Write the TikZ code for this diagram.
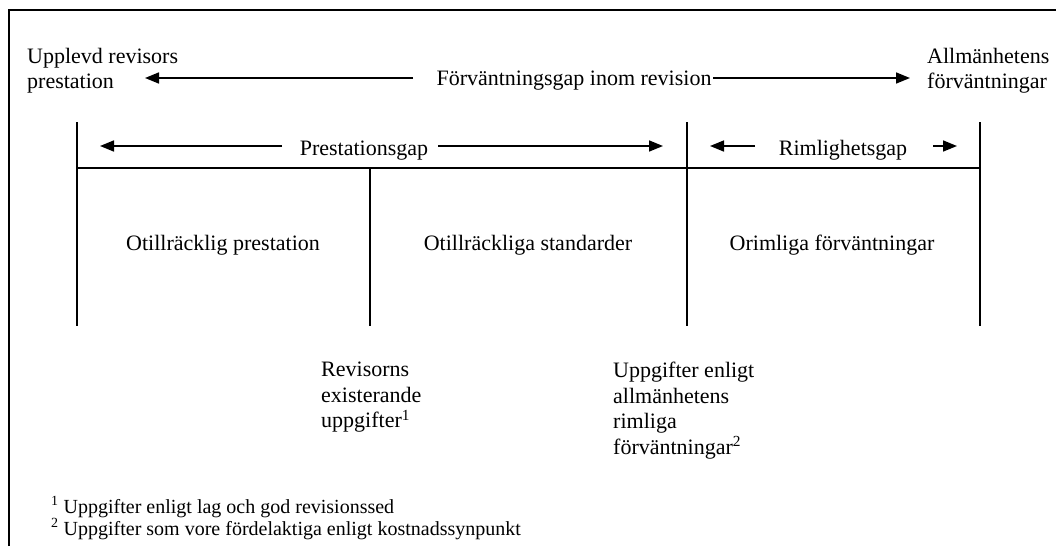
\documentclass[tikz,border=0pt]{standalone}
\usepackage{fontspec}
\setmainfont{Liberation Serif}
\usetikzlibrary{arrows.meta}
\begin{document}
\begin{tikzpicture}[x=1pt,y=-1pt,
  txt/.style={inner sep=0pt, font=\fontsize{22}{25.5}\selectfont},
  fn/.style={inner sep=0pt, font=\fontsize{20}{22}\selectfont, anchor=base west},
  ln/.style={line width=1.6pt},
  arr/.style={line width=1.6pt, -{Triangle[length=14pt,width=11pt]}}]
\useasboundingbox (0,0) rectangle (1056,546);
% frame
\draw[ln] (9,546) -- (9,10) -- (1056,10);
% row 1
\node[txt, anchor=north west, align=left] (upl) at (27,48) {Upplevd revisors\\prestation};
\node[txt, anchor=north west, align=left] (alm) at (927,48) {Allmänhetens\\förväntningar};
\node[txt, anchor=base] (gap) at (574,85) {Förväntningsgap inom revision};
\coordinate (g1s) at (413,78); \coordinate (g1t) at (145,78);
\coordinate (g2s) at (713,78); \coordinate (g2t) at (910,78);
\draw[arr] (g1s) -- (g1t);
\draw[arr] (g2s) -- (g2t);
% structure lines
\coordinate (vl1) at (77,122); \coordinate (vl2) at (77,326);
\coordinate (vr1) at (687,122); \coordinate (vr2) at (687,326);
\coordinate (ve1) at (980,122); \coordinate (ve2) at (980,326);
\coordinate (vm1) at (370,168); \coordinate (vm2) at (370,326);
\coordinate (h1) at (77,168); \coordinate (h2) at (980,168);
\draw[ln] (vl1) -- (vl2);
\draw[ln] (vr1) -- (vr2);
\draw[ln] (ve1) -- (ve2);
\draw[ln] (vm1) -- (vm2);
\draw[ln] (h1) -- (h2);
% row 2
\node[txt, anchor=base] (pg) at (364,155) {Prestationsgap};
\node[txt, anchor=base] (rg) at (843,155) {Rimlighetsgap};
\coordinate (p1s) at (282,146); \coordinate (p1t) at (100,146);
\coordinate (p2s) at (438,146); \coordinate (p2t) at (663,146);
\coordinate (r1s) at (755,146); \coordinate (r1t) at (710,146);
\coordinate (r2s) at (933,146); \coordinate (r2t) at (957,146);
\draw[arr] (p1s) -- (p1t);
\draw[arr] (p2s) -- (p2t);
\draw[arr] (r1s) -- (r1t);
\draw[arr] (r2s) -- (r2t);
% row 3
\node[txt, anchor=base] (op) at (223,250) {Otillräcklig prestation};
\node[txt, anchor=base] (os) at (528,250) {Otillräckliga standarder};
\node[txt, anchor=base] (of) at (832,250) {Orimliga förväntningar};
% lower labels
\node[txt, anchor=north west, align=left] (rev) at (321,362) {Revisorns\\existerande\\uppgifter\textsuperscript{1}};
\node[txt, anchor=north west, align=left] (upp) at (613,362) {Uppgifter enligt\\allmänhetens\\rimliga\\förväntningar\textsuperscript{2}};
% footnotes
\node[fn] (fn1) at (51,513) {\textsuperscript{1} Uppgifter enligt lag och god revisionssed};
\node[fn] (fn2) at (51,535) {\textsuperscript{2} Uppgifter som vore fördelaktiga enligt kostnadssynpunkt};
\end{tikzpicture}
\end{document}
